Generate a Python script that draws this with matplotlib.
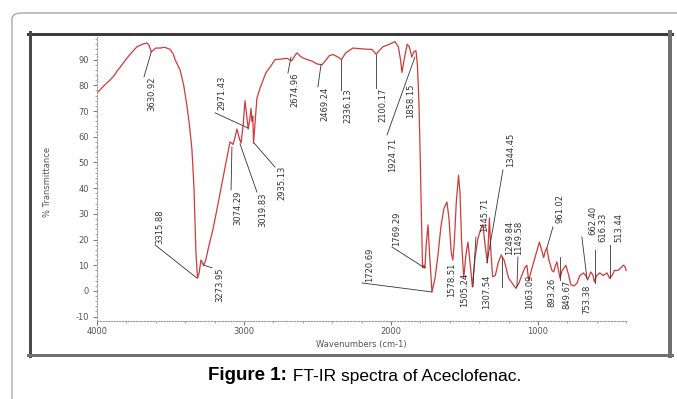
import matplotlib.pyplot as plt
from matplotlib.patches import FancyBboxPatch
from matplotlib.lines import Line2D
from matplotlib.ticker import MultipleLocator

plt.rcParams['axes.unicode_minus'] = False

# spectrum (wavenumber cm-1, % transmittance)
wavenumber = [4000, 3950, 3912, 3880, 3864, 3830, 3796, 3760, 3728, 3690, 3660, 3645, 3631, 3600,
              3571, 3540, 3503, 3480, 3469, 3435, 3410, 3388, 3370, 3354, 3340, 3327, 3316, 3305,
              3293, 3283, 3274, 3260, 3245, 3211, 3190, 3163, 3140, 3122, 3095, 3074, 3060, 3048,
              3030, 3020, 3005, 2993, 2985, 2971, 2960, 2952, 2946, 2940, 2935, 2925, 2912, 2890,
              2870, 2850, 2823, 2789, 2750, 2707, 2675, 2660, 2640, 2610, 2571, 2540, 2503, 2469,
              2440, 2420, 2395, 2360, 2336, 2310, 2259, 2200, 2150, 2129, 2100, 2080, 2054, 2010,
              1973, 1950, 1935, 1925, 1910, 1890, 1875, 1858, 1845, 1830, 1820, 1810, 1800, 1795,
              1785, 1775, 1769, 1760, 1748, 1738, 1721, 1700, 1680, 1660, 1640, 1619, 1605, 1590,
              1579, 1570, 1555, 1540, 1530, 1520, 1505, 1490, 1476, 1460, 1446, 1430, 1410, 1390,
              1374, 1360, 1344, 1330, 1320, 1308, 1290, 1270, 1250, 1230, 1200, 1175, 1150, 1130,
              1110, 1090, 1075, 1063, 1040, 1010, 990, 975, 961, 950, 940, 925, 905, 893, 880, 871,
              860, 850, 835, 810, 795, 775, 753, 735, 715, 690, 675, 662, 640, 625, 616, 600, 580,
              555, 530, 513, 495, 480, 455, 435, 420, 408, 400]
transmittance = [77, 80, 82, 84, 85.5, 88, 90.6, 93, 95, 96, 96.5, 95.5, 93, 94.5,
                 94.5, 94.8, 94, 92, 90, 86, 80, 72, 64, 55, 40, 15, 5, 7,
                 12, 11, 10, 12, 16, 24, 30, 38, 45, 50, 58, 57, 60, 63,
                 59, 57.5, 65, 74, 70, 63, 67, 71, 66, 68, 57.5, 65, 75, 79,
                 82, 85, 87, 90, 90.2, 90.5, 89.5, 91, 92.6, 91, 90, 89.5, 88.3, 88,
                 90, 91.5, 92, 91, 90, 92.5, 94.5, 94.2, 94, 94, 92, 93.5, 95, 96,
                 97, 95, 90, 85, 90, 96, 95, 91, 93, 93.5, 88, 74, 50, 35,
                 9, 10, 9, 18, 25.7, 15, -0.4, 5, 14, 25, 32, 34.6, 28, 15,
                 12, 18, 35, 45, 38, 20, 5, 14, 19, 10, 1.6, 12, 20, 24,
                 25.7, 18, 11, 28.4, 15, 5.5, 6, 11, 14, 12, 5, 3, 1, 3,
                 6, 9, 10, 4, 9, 15, 19, 16, 13, 15.5, 16.7, 12, 8, 7.4, 10, 11.3,
                 8, 5, 8, 10, 7, 2.3, 2, 3, 6, 7, 6, 4.3, 7.4, 6, 3.5, 6, 7,
                 6, 7, 5, 6, 8, 8, 9, 10, 9.5, 8]

# peak labels: text centre (x, y) and leader line (from, to), in data units
peak_labels = ['3630.92', '2971.43', '2935.13', '3074.29', '3019.83', '3315.88', '3273.95',
               '2674.96', '2469.24', '2336.13', '2100.17', '1924.71', '1858.15', '1769.29',
               '1720.69', '1578.51', '1505.24', '1445.71', '1344.45', '1307.54', '1249.84',
               '1149.58', '1063.09', '961.02', '893.26', '849.67', '753.38', '662.40',
               '616.33', '513.44']
label_x = [3626, 3150, 2741, 3041, 2871, 3571, 3163, 2653, 2449, 2292, 2054, 1986, 1864, 1959,
           2143, 1585, 1497, 1360, 1184, 1347, 1190, 1129, 1054, 850, 905, 803, 667, 626, 558, 449]
label_y = [76.7, 76.9, 42, 32.3, 31.5, 24.9, 2.3, 78.2, 72.8, 72, 72.4, 52.9, 73.9, 24.1,
           10.1, 4.3, 0.4, 29.6, 54.9, -0.4, 20.6, 20.6, -0.4, 31.9, -0.4, -1.2, -3.1, 27.6,
           24.9, 24.5]
lead_x0 = [3680, 3197, 2932, 3082, 3027, 3605, 3279, 2680, 2476, 2340, 2102, 2027, None, 1993,
           2197, None, None, 1422, 1238, None, 1245, 1136, None, 898, None, 850, None, 701, 612, 510]
lead_y0 = [83.3, 69.3, 57.6, 56, 57.2, 17.9, 10.1, 91, 88, 90, 91.8, 60.7, None, 17.1,
           3.1, None, None, 21, 47.1, None, 13.2, 13.2, None, 24.9, None, 13.2, None, 21, 16, 17.9]
lead_x1 = [3631, 2973, 2789, 3088, 2912, 3320, 3218, 2701, 2497, 2340, 2102, 1837, None, 1769,
           1721, None, None, 1442, 1347, None, 1245, 1143, None, 939, None, 850, None, 667, 612, 510]
lead_y1 = [93, 63.4, 48.2, 39.3, 38.5, 5, 9, 84.8, 79.4, 78, 79, 91, None, 8.9,
           -0.4, None, None, 1.6, 10.9, None, 1.6, 1.6, None, 16.7, None, 4.3, None, 5.1, 3.1, 5.1]

fig = plt.figure(figsize=(6.77, 3.99), dpi=100)

# outer rounded page frame and the inner window border
frame = FancyBboxPatch((12 / 677, -0.2), 1.2, 1 - 13 / 399 + 0.2, transform=fig.transFigure,
                       boxstyle='round,pad=0,rounding_size=0.015', fc='none', ec='#a0a0a0', lw=0.9)
fig.patches.append(frame)
px = 72 / 100
fig.lines.append(Line2D([28 / 677, 672 / 677], [1 - 33.5 / 399] * 2, transform=fig.transFigure, color='#3c3c3c', lw=3 * px))
fig.lines.append(Line2D([29.5 / 677] * 2, [1 - 32 / 399, 1 - 356 / 399], transform=fig.transFigure, color='#4a4a4a', lw=3 * px))
fig.lines.append(Line2D([670 / 677] * 2, [1 - 32 / 399, 1 - 356 / 399], transform=fig.transFigure, color='#707070', lw=4 * px))
fig.lines.append(Line2D([28 / 677, 672 / 677], [1 - 354.5 / 399] * 2, transform=fig.transFigure, color='#707070', lw=3 * px))

ax = fig.add_axes([97 / 677, 1 - 321 / 399, 530 / 677, 284 / 399])
ax.plot(wavenumber, transmittance, color='#d03a3a', lw=0.9)

for i in range(len(peak_labels)):
    ax.text(label_x[i], label_y[i], peak_labels[i], rotation=90, ha='center', va='center',
            fontsize=6, color='#333333')
    if lead_x0[i] is not None:
        ax.plot([lead_x0[i], lead_x1[i]], [lead_y0[i], lead_y1[i]], color='#333333', lw=0.6)

ax.set_xlim(4000, 394)
ax.set_ylim(-11.7, 98.8)
ax.xaxis.set_major_locator(MultipleLocator(1000))
ax.xaxis.set_minor_locator(MultipleLocator(200))
ax.yaxis.set_major_locator(MultipleLocator(10))
ax.yaxis.set_minor_locator(MultipleLocator(2))
ax.spines['top'].set_visible(False)
ax.spines['right'].set_visible(False)
for s in ['left', 'bottom']:
    ax.spines[s].set_color('#999999')
    ax.spines[s].set_linestyle((0, (1, 1.5)))
    ax.spines[s].set_linewidth(0.8)
ax.tick_params(which='major', length=3, width=0.7, color='#777777', labelsize=6, labelcolor='#555555')
ax.tick_params(which='minor', length=1.5, width=0.6, color='#999999')
ax.tick_params(axis='x', which='both', pad=1.5)
ax.tick_params(axis='y', which='major', pad=3)

ax.set_xlabel('Wavenumbers (cm-1)', fontsize=6, color='#555555', va='center')
ax.xaxis.set_label_coords(0.498, -0.081)
ax.set_ylabel('% Transmittance', fontsize=6, color='#555555', va='center')
ax.yaxis.set_label_coords(-0.094, 0.49)

fig.text(287 / 677, 1 - 376 / 399, 'Figure 1:', fontsize=13.5, fontweight='bold', family='Liberation Sans',
         ha='right', va='center')
fig.text(288 / 677, 1 - 376 / 399, ' FT-IR spectra of Aceclofenac.', fontsize=12.5, family='Liberation Sans',
         ha='left', va='center')

fig.savefig('out.png', dpi=100)
